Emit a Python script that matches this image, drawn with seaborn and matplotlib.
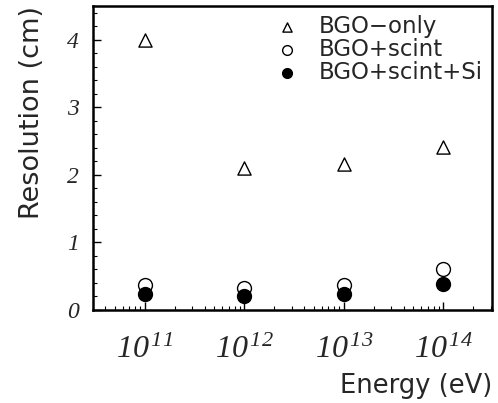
import numpy as np
import pandas as pd
import matplotlib
matplotlib.use("Agg")
import matplotlib.pyplot as plt
import seaborn as sns
from matplotlib.ticker import FixedLocator, LogLocator, MultipleLocator, NullFormatter

energy = [1e11, 1e12, 1e13, 1e14]
bgo_only = [4.00, 2.10, 2.16, 2.41]
bgo_scint = [0.37, 0.33, 0.37, 0.61]
bgo_scint_si = [0.24, 0.21, 0.24, 0.39]
series_names = ["BGO\u2212only", "BGO+scint", "BGO+scint+Si"]
xtick_labels = [r"$10^{\,11}$", r"$10^{\,12}$", r"$10^{\,13}$", r"$10^{\,14}$"]
ytick_values = [0, 1, 2, 3, 4]

df = pd.DataFrame({
    "Energy": energy * 3,
    "Resolution": bgo_only + bgo_scint + bgo_scint_si,
    "Config": [series_names[0]] * 4 + [series_names[1]] * 4 + [series_names[2]] * 4,
})

sns.set_style("ticks")
plt.rcParams["font.family"] = ["DejaVu Sans"]
plt.rcParams["mathtext.fontset"] = "custom"
plt.rcParams["mathtext.rm"] = "Liberation Serif:italic"
plt.rcParams["mathtext.it"] = "Liberation Serif:italic"

fig = plt.figure(figsize=(4.98, 4.03), dpi=100)
ax = fig.add_axes([0.187, 0.231, 0.801, 0.754])

styles = {
    series_names[0]: dict(marker="^", facecolor="white", edgecolor="black", s=90),
    series_names[1]: dict(marker="o", facecolor="white", edgecolor="black", s=100),
    series_names[2]: dict(marker="o", facecolor="black", edgecolor="black", s=100),
}
for name in series_names:
    sub = df[df["Config"] == name]
    st = styles[name]
    sns.scatterplot(data=sub, x="Energy", y="Resolution", ax=ax, marker=st["marker"],
                    facecolor=st["facecolor"], edgecolor=st["edgecolor"], s=st["s"],
                    linewidth=1.0, label=name, zorder=3)

ax.set_xscale("log")
ax.set_xlim(10 ** 10.48, 10 ** 14.49)
ax.set_ylim(0, 4.5)

ax.xaxis.set_major_locator(FixedLocator(energy))
ax.set_xticklabels(xtick_labels, fontsize=23)
ax.xaxis.set_minor_locator(LogLocator(base=10, subs=np.arange(2, 10), numticks=20))
ax.xaxis.set_minor_formatter(NullFormatter())

ax.yaxis.set_major_locator(FixedLocator(ytick_values))
ax.set_yticklabels([str(v) for v in ytick_values], fontsize=17, family="Liberation Serif", style="italic")
ax.yaxis.set_minor_locator(MultipleLocator(0.2))

ax.tick_params(axis="both", which="major", direction="in", length=6, width=1.0, color="black")
ax.tick_params(axis="both", which="minor", direction="in", length=3, width=0.8, color="black")
ax.tick_params(axis="x", which="major", pad=17)
ax.tick_params(axis="y", which="major", pad=10)

for sp in ax.spines.values():
    sp.set_visible(True)
    sp.set_linewidth(1.8)
    sp.set_color("black")

ax.set_xlabel("Energy (eV)", fontsize=18.5, loc="right", labelpad=6)
ax.set_ylabel("Resolution (cm)", fontsize=19.5, loc="top", labelpad=16)

leg = ax.legend(loc="upper right", frameon=False, fontsize=16.5, markerscale=0.7,
                handletextpad=1.0, labelspacing=0.0, borderaxespad=0.1, handlelength=0.8,
                borderpad=0.3)

fig.savefig("out.png", dpi=100, facecolor="white")
